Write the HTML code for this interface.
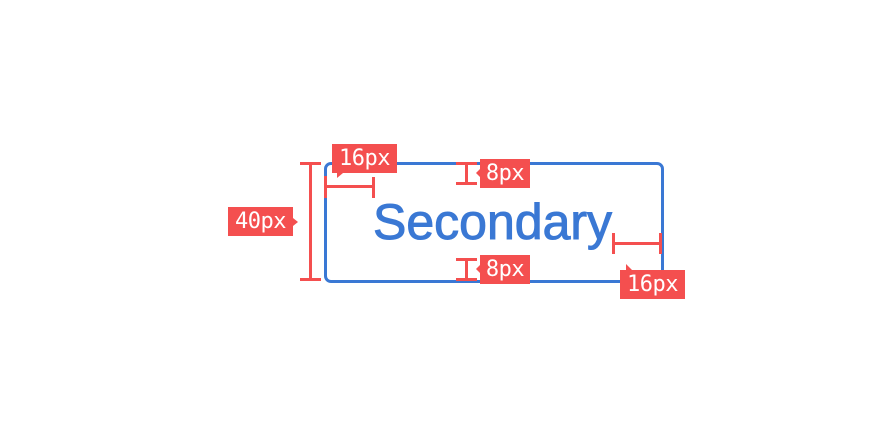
<!DOCTYPE html>
<html><head><style>
html,body{margin:0;padding:0;background:#fff;width:891px;height:441px;overflow:hidden;position:relative}
.a{position:absolute}
.box{left:324px;top:162px;width:334px;height:115px;border:3px solid #3a78d4;border-radius:7px}
.r{background:#f44f4f;position:absolute}
.lab{position:absolute;background:#f44f4f;color:#fff;font-family:"DejaVu Sans Mono","Liberation Mono",monospace;font-size:22px;line-height:29px;height:29px;text-align:center;letter-spacing:-0.5px}
.txt{left:373px;top:192px;font-family:"Liberation Sans",sans-serif;font-size:50px;color:#3a78d4;-webkit-text-stroke:1px #3a78d4;line-height:60px;white-space:nowrap}
</style></head><body>
<div class="a box"></div>
<div class="a txt">Secondary</div>
<div class="r" style="left:309px;top:163px;width:3px;height:118px"></div>
<div class="r" style="left:300px;top:162px;width:21px;height:3px"></div>
<div class="r" style="left:300px;top:278px;width:21px;height:3px"></div>
<div class="lab" style="left:228px;top:207px;width:65px">40px</div>
<div class="a" style="left:293px;top:218px;border-left:5px solid #f44f4f;border-top:4px solid transparent;border-bottom:4px solid transparent"></div>
<div class="r" style="left:325px;top:185px;width:50px;height:3px"></div>
<div class="r" style="left:324px;top:176px;width:3px;height:22px"></div>
<div class="r" style="left:372px;top:177px;width:3px;height:21px"></div>
<div class="lab" style="left:332px;top:144px;width:65px">16px</div>
<div class="a" style="left:337px;top:173px;border-top:5px solid #f44f4f;border-right:6px solid transparent"></div>
<div class="r" style="left:465px;top:163px;width:3px;height:21px"></div>
<div class="r" style="left:456px;top:162px;width:21px;height:3px"></div>
<div class="r" style="left:456px;top:182px;width:21px;height:3px"></div>
<div class="lab" style="left:480px;top:159px;width:50px">8px</div>
<div class="a" style="left:476px;top:169px;border-right:4px solid #f44f4f;border-top:4px solid transparent;border-bottom:4px solid transparent"></div>
<div class="r" style="left:465px;top:259px;width:3px;height:21px"></div>
<div class="r" style="left:456px;top:258px;width:21px;height:3px"></div>
<div class="r" style="left:456px;top:278px;width:21px;height:3px"></div>
<div class="lab" style="left:480px;top:255px;width:50px">8px</div>
<div class="a" style="left:476px;top:265px;border-right:4px solid #f44f4f;border-top:4px solid transparent;border-bottom:4px solid transparent"></div>
<div class="r" style="left:613px;top:242px;width:48px;height:3px"></div>
<div class="r" style="left:612px;top:233px;width:3px;height:21px"></div>
<div class="r" style="left:659px;top:233px;width:3px;height:21px"></div>
<div class="lab" style="left:620px;top:270px;width:65px">16px</div>
<div class="a" style="left:626px;top:264px;border-bottom:6px solid #f44f4f;border-right:6px solid transparent"></div>
</body></html>
